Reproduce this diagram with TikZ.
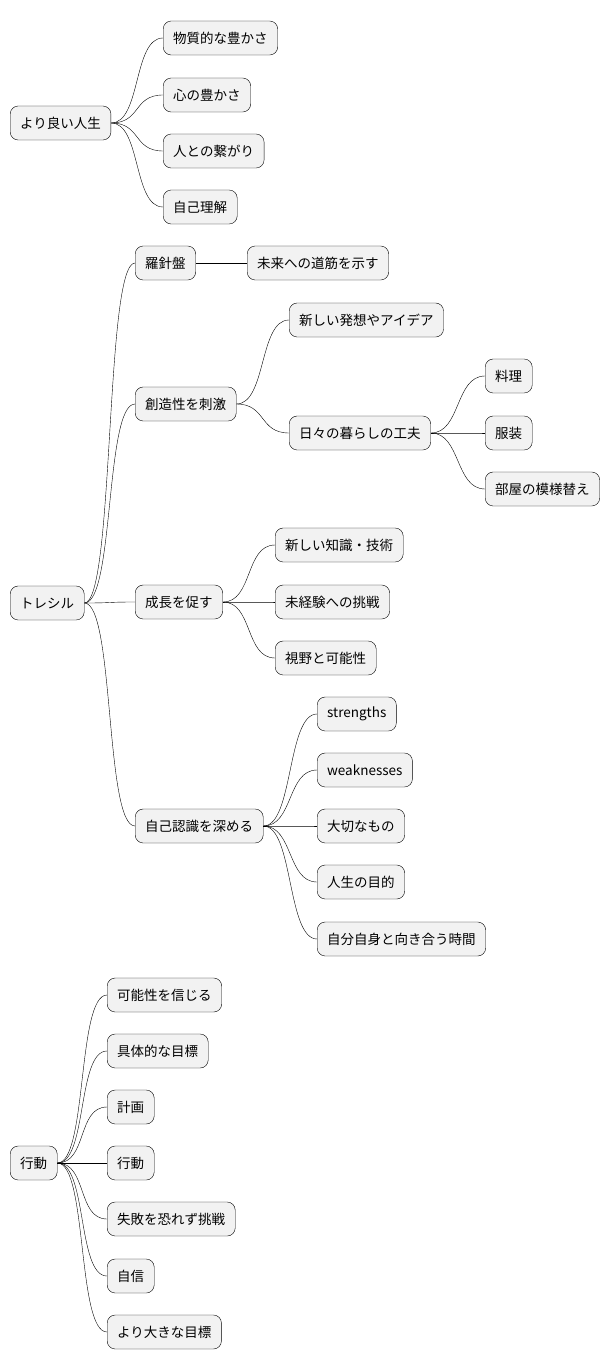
\documentclass[tikz,border=0pt]{standalone}
\usepackage{fontspec}
\setmainfont{Noto Sans CJK JP}
\begin{document}
\begin{tikzpicture}[x=1pt,y=-1pt,
	idea/.style={rectangle, rounded corners=8pt, draw=black, fill=gray!10, thin, anchor=west,
		minimum height=34pt, inner xsep=10pt, font=\fontsize{13.5}{16}\selectfont},
	branch/.style={draw=black, thin},
	]
	\useasboundingbox (0,0) rectangle (614,1372);
	%Root 1
	\node[idea] (life) at (10,123) {より良い人生};
	\node[idea] (wealth) at (163,38) {物質的な豊かさ};
	\node[idea] (heart) at (163,95) {心の豊かさ};
	\node[idea] (bond) at (163,151) {人との繋がり};
	\node[idea] (self) at (163,207) {自己理解};
	%
	\foreach \c in {wealth,heart,bond,self}
		\draw[branch] (life.east) .. controls +(30,0) and +(-30,0) .. (\c.west);
	%Root 2
	\node[idea] (tre) at (10,603) {トレシル};
	\node[idea] (compass) at (135,263) {羅針盤};
	\node[idea] (future) at (247,263) {未来への道筋を示す};
	\node[idea] (creat) at (135,404) {創造性を刺激};
	\node[idea] (idea1) at (289,320) {新しい発想やアイデア};
	\node[idea] (daily) at (289,433) {日々の暮らしの工夫};
	\node[idea] (cook) at (485,376) {料理};
	\node[idea] (cloth) at (485,433) {服装};
	\node[idea] (room) at (485,489) {部屋の模様替え};
	\node[idea] (grow) at (135,602) {成長を促す};
	\node[idea] (know) at (275,545) {新しい知識・技術};
	\node[idea] (chall) at (275,602) {未経験への挑戦};
	\node[idea] (view) at (275,658) {視野と可能性};
	\node[idea] (aware) at (135,826) {自己認識を深める};
	\node[idea] (str) at (317,714) {strengths};
	\node[idea] (weak) at (317,770) {weaknesses};
	\node[idea] (dear) at (317,826) {大切なもの};
	\node[idea] (aim) at (317,882) {人生の目的};
	\node[idea] (time) at (317,939) {自分自身と向き合う時間};
	%
	\foreach \c in {compass,creat,grow,aware}
		\draw[branch] (tre.east) .. controls +(30,0) and +(-30,0) .. (\c.west);
	\draw[branch] (compass.east) -- (future.west);
	\foreach \c in {idea1,daily}
		\draw[branch] (creat.east) .. controls +(30,0) and +(-30,0) .. (\c.west);
	\foreach \c in {cook,cloth,room}
		\draw[branch] (daily.east) .. controls +(30,0) and +(-30,0) .. (\c.west);
	\foreach \c in {know,chall,view}
		\draw[branch] (grow.east) .. controls +(30,0) and +(-30,0) .. (\c.west);
	\foreach \c in {str,weak,dear,aim,time}
		\draw[branch] (aware.east) .. controls +(30,0) and +(-30,0) .. (\c.west);
	%Root 3
	\node[idea] (act) at (10,1163) {行動};
	\node[idea] (believe) at (107,995) {可能性を信じる};
	\node[idea] (goal) at (107,1051) {具体的な目標};
	\node[idea] (plan) at (107,1107) {計画};
	\node[idea] (act2) at (107,1163) {行動};
	\node[idea] (fail) at (107,1219) {失敗を恐れず挑戦};
	\node[idea] (conf) at (107,1276) {自信};
	\node[idea] (big) at (107,1332) {より大きな目標};
	%
	\foreach \c in {believe,goal,plan,act2,fail,conf,big}
		\draw[branch] (act.east) .. controls +(30,0) and +(-30,0) .. (\c.west);
\end{tikzpicture}
\end{document}
